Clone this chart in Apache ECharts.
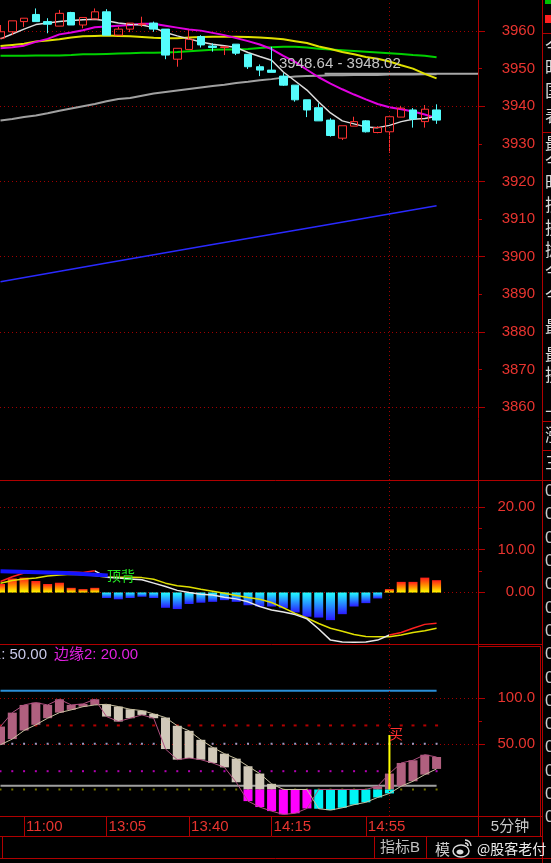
<!DOCTYPE html>
<html>
<head>
<meta charset="utf-8">
<style>
  html, body { margin: 0; padding: 0; background: #000; }
  #chart { width: 551px; height: 863px; }
</style>
<script src="https://cdn.jsdelivr.net/npm/echarts@6/dist/echarts.min.js"></script>
</head>
<body>
<div id="chart"></div>
<script>
// 5 minute bars, [open, close, low, high]
const candles = [
  [3958.1, 3959.8, 3958.1, 3961.6], [3959.8, 3962.7, 3958.9, 3962.7], [3962.5, 3963.4, 3961.1, 3963.4],
  [3964.4, 3962.5, 3962.5, 3966.0], [3962.5, 3961.8, 3959.4, 3963.4], [3961.3, 3964.7, 3961.3, 3965.6],
  [3964.9, 3961.6, 3961.6, 3965.1], [3961.6, 3963.6, 3960.7, 3963.6], [3963.2, 3965.1, 3963.2, 3966.0],
  [3965.1, 3958.9, 3958.9, 3965.8], [3958.9, 3960.5, 3958.9, 3961.1], [3960.5, 3962.1, 3959.7, 3962.1],
  [3961.7, 3961.9, 3961.1, 3963.8], [3962.1, 3960.5, 3959.8, 3962.5], [3960.5, 3953.6, 3952.5, 3960.5],
  [3952.5, 3955.4, 3950.5, 3955.4], [3955.1, 3957.8, 3955.1, 3960.3], [3958.5, 3956.3, 3955.6, 3958.9],
  [3956.0, 3955.6, 3954.5, 3956.7], [3955.6, 3955.8, 3953.6, 3955.8], [3956.5, 3954.1, 3953.6, 3956.5],
  [3953.8, 3950.5, 3949.9, 3953.8], [3950.5, 3949.6, 3948.0, 3951.1], [3949.6, 3949.0, 3949.0, 3955.8],
  [3948.0, 3945.6, 3945.4, 3948.8], [3945.6, 3941.7, 3941.2, 3945.6], [3941.7, 3939.0, 3937.1, 3941.7],
  [3939.6, 3936.1, 3936.1, 3940.8], [3936.3, 3932.2, 3931.9, 3936.8], [3931.5, 3934.8, 3931.0, 3934.8],
  [3934.7, 3935.9, 3934.7, 3937.2], [3936.1, 3933.2, 3933.0, 3936.3], [3933.0, 3934.3, 3932.8, 3934.7],
  [3933.2, 3937.2, 3927.6, 3937.2], [3937.1, 3939.5, 3937.1, 3940.1], [3939.0, 3936.6, 3934.3, 3939.5],
  [3935.9, 3939.2, 3934.3, 3940.3], [3939.0, 3936.3, 3935.3, 3940.5]
];
const maWhite = [3957.9, 3959.2, 3960.5, 3961.7, 3962.1, 3962.5, 3962.8, 3963.0, 3963.1, 3962.7, 3962.1, 3961.8, 3961.6, 3960.9, 3959.6, 3958.7, 3957.9, 3957.1, 3956.5, 3956.1, 3955.6, 3954.3, 3953.2, 3952.2, 3949.1, 3946.7, 3944.3, 3941.1, 3938.2, 3936.1, 3935.3, 3934.5, 3934.3, 3934.9, 3935.9, 3936.5, 3936.7, 3937.3];
const maMagenta = [3955.4, 3955.7, 3956.1, 3957.1, 3957.9, 3959.1, 3959.6, 3960.2, 3961.0, 3961.2, 3961.4, 3961.6, 3961.9, 3961.9, 3961.4, 3960.9, 3960.4, 3960.1, 3959.5, 3958.9, 3958.1, 3957.3, 3956.4, 3955.2, 3953.4, 3951.8, 3949.7, 3947.7, 3946.0, 3944.5, 3943.1, 3941.8, 3940.6, 3939.7, 3939.2, 3938.6, 3937.8, 3936.8];
const maYellow = [3956.0, 3956.3, 3956.6, 3957.2, 3957.5, 3957.8, 3958.3, 3958.6, 3958.7, 3958.8, 3958.7, 3958.6, 3958.4, 3958.2, 3958.1, 3958.1, 3958.3, 3958.4, 3958.5, 3958.5, 3958.5, 3958.4, 3958.3, 3958.1, 3957.8, 3957.3, 3956.8, 3955.9, 3955.2, 3954.4, 3953.8, 3953.1, 3952.6, 3951.9, 3950.9, 3950.0, 3948.6, 3947.4];
const maGreen = [3953.4, 3953.4, 3953.4, 3953.5, 3953.5, 3953.5, 3953.6, 3953.8, 3953.8, 3953.9, 3954.0, 3954.1, 3954.2, 3954.2, 3954.3, 3954.4, 3954.6, 3954.8, 3955.0, 3955.1, 3955.1, 3955.2, 3955.5, 3955.7, 3955.8, 3955.8, 3955.6, 3955.3, 3955.1, 3954.9, 3954.7, 3954.5, 3954.3, 3954.1, 3953.9, 3953.6, 3953.4, 3953.0];
const maGrey = [3936.2, 3936.6, 3937.1, 3937.5, 3938.1, 3938.8, 3939.4, 3940.0, 3940.6, 3941.3, 3941.9, 3942.2, 3942.8, 3943.4, 3943.8, 3944.2, 3944.6, 3945.0, 3945.4, 3945.7, 3946.2, 3946.5, 3946.9, 3947.2, 3947.6, 3947.9, 3948.0, 3948.1, 3948.2, 3948.2, 3948.3, 3948.3, 3948.3, 3948.4, 3948.4, 3948.4, 3948.5, 3948.5];
const maBlue = [[0, 3893.3], [9, 3898.3], [18, 3903.2], [27, 3908.1], [37, 3913.5]];
const priceLine = [[27.5, 3948.64], [40.515, 3948.64]];

// MACD
const macdHist = [2.0, 3.3, 3.5, 2.7, 2.0, 2.3, 1.1, 0.8, 1.1, -1.3, -1.6, -1.3, -1.0, -1.3, -3.6, -3.9, -2.7, -2.4, -2.2, -1.8, -2.2, -3.0, -3.3, -3.3, -3.7, -4.7, -5.7, -5.9, -6.5, -5.1, -3.3, -2.5, -1.4, 0.8, 2.5, 2.5, 3.5, 2.9];
const dif = [2.6, 3.7, 4.6, 4.9, 4.9, 4.9, 4.8, 4.7, 5.1, 3.6, 3.4, 3.2, 3.0, 2.2, 1.4, 0.5, 0.0, -0.4, -0.6, -1.1, -1.5, -2.2, -3.3, -4.1, -4.6, -5.2, -6.2, -8.6, -11.2, -11.65, -11.7, -11.65, -11.2, -10.0, -9.4, -8.4, -7.5, -7.25];
const dea = [2.2, 2.8, 3.2, 3.4, 3.9, 4.1, 4.3, 4.2, 4.0, 3.6, 3.6, 3.6, 3.5, 3.1, 2.2, 1.6, 1.3, 0.75, 0.3, -0.2, -0.7, -1.2, -1.6, -2.35, -3.6, -4.9, -6.0, -7.3, -8.4, -9.1, -9.9, -10.35, -10.4, -10.4, -10.0, -9.4, -9.0, -8.4];
const divergence = [[0, 5.0], [5.6, 4.6], [9.1, 4.0]];

// bottom indicator boxes
const boxOpen = [48.9, 55.1, 64.5, 70.7, 77.9, 84.0, 87.0, 90.5, 92.4, 93.1, 90.6, 87.7, 86.2, 82.6, 78.6, 69.6, 64.1, 54.3, 46.0, 39.1, 33.7, 25.4, 17.4, 6.2, 0, 0, 0, -21.0, -22.5, -20.0, -16.6, -14.0, -8.7, -4.3, 3.6, 9.0, 16.3, 22.5];
const boxClose = [68.8, 84.0, 92.4, 94.9, 92.4, 98.6, 92.4, 93.5, 98.6, 79.7, 74.3, 77.9, 81.5, 77.9, 44.2, 32.6, 34.4, 32.6, 29.0, 24.2, 7.9, -12.7, -19.2, -23.6, -27.2, -26.0, -20.7, 0, 0, 0, 0, 0, 3.5, 17.4, 29.0, 31.9, 38.0, 35.5];
const upperLevel = 108;
const baseLevel = 4;
const edge1 = 50, edge2 = 20, redLevel = 70, zeroLevel = 0;
const buySignal = [[33, 0], [33, 59.6]];
const dayBreak = 33;

const timeTicks = [2, 9, 16, 23, 31];
const timeLabels = ['11:00', '13:05', '13:40', '14:15', '14:55'];

const X_MIN = -0.042, X_MAX = 40.515;
const RED = '#e8342f';
const FRAME = '#b00000';
const DOT = '#a00000';
const FONT = '"Liberation Sans", "Noto Sans CJK SC", sans-serif';
const CJK = '"Noto Sans CJK SC", sans-serif';

const idx = candles.map((_, i) => i);
const pairs = (arr) => arr.map((v, i) => [i, v]);
const level = (v) => idx.map(i => [i, v]);

const posGrad = new echarts.graphic.LinearGradient(0, 0, 0, 1, [
  { offset: 0, color: '#ff1a1a' }, { offset: 0.5, color: '#ff8c00' }, { offset: 1, color: '#ffff00' }
]);
const negGrad = new echarts.graphic.LinearGradient(0, 0, 0, 1, [
  { offset: 0, color: '#22ffff' }, { offset: 1, color: '#2a1aff' }
]);

const vLine = {
  symbol: ['none', 'none'], silent: true, label: { show: false },
  lineStyle: { color: DOT, type: [1, 3], width: 1 },
  data: [{ xAxis: dayBreak }]
};

function lineSeries(x, y, data, color, width, extra) {
  return Object.assign({
    type: 'line', xAxisIndex: x, yAxisIndex: y, data, symbol: 'none',
    lineStyle: { color, width }, z: 2, silent: true
  }, extra || {});
}
function dots(v, color, size) {
  return {
    type: 'scatter', xAxisIndex: 4, yAxisIndex: 6, data: level(v), symbol: 'rect',
    symbolSize: size, itemStyle: { color }, z: 1, silent: true
  };
}

const chart = echarts.init(document.getElementById('chart'));

const frame = [
  [478.5, 0, 478.5, 837], [542.5, 0, 542.5, 863],
  [0, 480.5, 551, 480.5], [0, 644.5, 543, 644.5], [0, 816.5, 543, 816.5],
  [0, 836.5, 543, 836.5], [0, 858.5, 551, 858.5],
  [479, 646.5, 540.5, 646.5], [540.5, 646.5, 540.5, 837],
  [2.5, 837, 2.5, 858], [374.5, 837, 374.5, 858], [426.5, 837, 426.5, 858],
  [542.5, 33.5, 551, 33.5], [542.5, 132.5, 551, 132.5],
  [542.5, 421.5, 551, 421.5], [542.5, 450.5, 551, 450.5]
];
const sideChars = [['今', 47], ['昨', 68], ['国', 91], ['表', 116], ['最', 144], ['今', 162], ['昨', 183],
  ['振', 205], ['换', 228], ['抛', 250], ['今', 272], ['今', 296], ['最', 327], ['最', 355], ['换', 375],
  ['上', 405], ['涨', 435], ['三', 463]];

function txt(x, y, text, fill, font, align) {
  return { type: 'text', x, y, z: 100, silent: true,
    style: { text, fill, font, align: align || 'left', verticalAlign: 'middle',
      textAlign: align || 'left', textVerticalAlign: 'middle' } };
}

const graphics = [];
frame.forEach(f => graphics.push({ type: 'line', z: 100, silent: true,
  shape: { x1: f[0], y1: f[1], x2: f[2], y2: f[3] }, style: { stroke: FRAME, lineWidth: 1 } }));
graphics.push({ type: 'rect', z: 100, shape: { x: 545, y: 0, width: 6, height: 4 }, style: { fill: '#00c000' } });
graphics.push({ type: 'rect', z: 100, shape: { x: 545, y: 15, width: 6, height: 8 }, style: { fill: '#ff2020' } });
sideChars.forEach(c => graphics.push(txt(545, c[1], c[0], '#d8d8d8', '17px ' + CJK)));
for (let k = 0; k < 15; k++) graphics.push(txt(545, 491.5 + k * 23.3, '0', '#c8c8c8', '17px ' + FONT));
graphics.push(txt(279, 64, '3948.64 - 3948.02', '#c4c4c4', '15px ' + FONT));
graphics.push(txt(107, 576, '顶背', '#22e622', '14px ' + CJK));
graphics.push(txt(389, 734, '买', '#ff3030', '14px ' + CJK));
graphics.push(txt(47, 655, '边缘1: 50.00', '#c8c8e8', '15px ' + FONT, 'right'));
graphics.push(txt(54, 655, '边缘2: 20.00', '#e020e0', '15px ' + FONT));
graphics.push(txt(510, 827, '5分钟', '#c8c8c8', '15px ' + FONT, 'center'));
graphics.push(txt(400, 848, '指标B', '#c0c0c0', '15px ' + FONT, 'center'));
graphics.push(txt(435, 849, '模', '#d0d0d0', '15px ' + CJK));
graphics.push(txt(477, 849, '@股客老付', '#eeeeee', '14px ' + CJK));
// weibo mark
graphics.push({ type: 'ellipse', z: 100, shape: { cx: 461, cy: 851, rx: 8, ry: 6 }, style: { fill: 'none', stroke: '#dcdcdc', lineWidth: 1.5 } });
graphics.push({ type: 'ellipse', z: 100, shape: { cx: 460, cy: 852, rx: 3.5, ry: 2.5 }, style: { fill: '#dcdcdc' } });
graphics.push({ type: 'arc', z: 100, shape: { cx: 465, cy: 846, r: 6, startAngle: -Math.PI / 2, endAngle: 0 }, style: { fill: 'none', stroke: '#dcdcdc', lineWidth: 1.5 } });
graphics.push({ type: 'arc', z: 100, shape: { cx: 465, cy: 846, r: 3, startAngle: -Math.PI / 2, endAngle: 0 }, style: { fill: 'none', stroke: '#dcdcdc', lineWidth: 1.5 } });

const hiddenX = (g) => ({ type: 'value', gridIndex: g, min: X_MIN, max: X_MAX, show: false });
const dummyX = (g) => ({ type: 'value', gridIndex: g, min: 0, max: 1, show: false });
const tickAxis = (g, min, max, interval, len, labels, split, fmt) => ({
  type: 'value', gridIndex: g, position: 'right', min, max, interval,
  axisLine: { show: false, onZero: false },
  axisTick: { show: true, length: len, lineStyle: { color: FRAME } },
  axisLabel: { show: labels, color: RED, fontSize: 15, fontFamily: FONT, align: 'right', margin: 57, formatter: fmt },
  splitLine: { show: split, lineStyle: { color: DOT, type: [1, 3], width: 1 } }
});

chart.setOption({
  backgroundColor: '#000',
  animation: false,
  textStyle: { fontFamily: FONT },
  grid: [
    { left: 0, top: 0, width: 478, height: 480 },
    { left: 0, top: 31, width: 478, height: 376 },
    { left: 0, top: 481, width: 478, height: 163 },
    { left: 0, top: 507, width: 478, height: 85 },
    { left: 0, top: 645, width: 478, height: 171 },
    { left: 0, top: 698, width: 478, height: 45.75 }
  ],
  xAxis: [
    hiddenX(0), dummyX(1), hiddenX(2), dummyX(3),
    {
      type: 'value', gridIndex: 4, min: X_MIN, max: X_MAX,
      axisLine: { show: false, onZero: false }, splitLine: { show: false },
      axisTick: { show: true, customValues: timeTicks, length: 20, lineStyle: { color: FRAME } },
      axisLabel: {
        customValues: timeTicks, color: RED, fontSize: 15, fontFamily: FONT,
        align: 'left', margin: 3, padding: [0, 0, 0, 2],
        formatter: (v) => timeLabels[timeTicks.indexOf(v)]
      }
    },
    dummyX(5)
  ],
  yAxis: [
    { type: 'value', gridIndex: 0, min: 3840.585, max: 3968.245, show: false },
    tickAxis(1, 3860, 3960, 10, 4, true, false, (v) => String(v)),
    tickAxis(1, 3860, 3960, 20, 7, false, true),
    { type: 'value', gridIndex: 2, min: -12.118, max: 26.235, show: false },
    tickAxis(3, 0, 20, 10, 7, true, true, (v) => v.toFixed(2)),
    tickAxis(3, 0, 20, 5, 4, false, false),
    { type: 'value', gridIndex: 4, min: -28.96, max: 157.9, show: false },
    tickAxis(5, 50, 100, 50, 7, true, true, (v) => v >= 100 ? v.toFixed(1) : v.toFixed(2)),
    tickAxis(5, 50, 100, 25, 4, false, false)
  ],
  graphic: { elements: graphics },
  series: [
    // main price panel
    lineSeries(0, 0, maBlue, '#2a2aff', 1.5),
    lineSeries(0, 0, pairs(maGrey), '#a0a0a0', 2),
    lineSeries(0, 0, priceLine, '#a8a8a8', 2),
    lineSeries(0, 0, pairs(maGreen), '#00d000', 2),
    lineSeries(0, 0, pairs(maYellow), '#e0e000', 2),
    lineSeries(0, 0, pairs(maMagenta), '#e000e0', 2),
    lineSeries(0, 0, pairs(maWhite), '#dcdcdc', 1.5, { markLine: vLine }),
    {
      type: 'candlestick', xAxisIndex: 0, yAxisIndex: 0, z: 3, silent: true,
      layout: 'horizontal', barWidth: 8,
      data: candles.map((c, i) => [i, c[0], c[1], c[2], c[3]]),
      itemStyle: {
        color: 'rgba(0,0,0,0)', color0: '#54fcfc',
        borderColor: '#ff3232', borderColor0: '#54fcfc', borderColorDoji: '#ff3232', borderWidth: 1
      }
    },
    // MACD panel
    {
      type: 'bar', xAxisIndex: 2, yAxisIndex: 3, barWidth: 9, silent: true, z: 1,
      data: macdHist.map((v, i) => ({ value: [i, v], itemStyle: { color: v >= 0 ? posGrad : negGrad } }))
    },
    lineSeries(2, 3, pairs(dea), '#e0e000', 1.5, { markLine: vLine }),
    lineSeries(2, 3, pairs(dif).map(p => (p[0] >= 8 && p[0] <= 33 ? p : [p[0], null])), '#e8e8e8', 1.5),
    lineSeries(2, 3, pairs(dif).map(p => (p[0] <= 8 || p[0] >= 33 ? p : [p[0], null])), '#ff2020', 1.5),
    lineSeries(2, 3, divergence, '#1414ff', 4),
    // bottom indicator panel
    dots(redLevel, '#e00000', [3, 2]),
    dots(edge1, '#c0c0f0', [2, 2]),
    dots(edge2, '#e000e0', [2, 2]),
    dots(zeroLevel, '#909000', [2, 2]),
    lineSeries(4, 6, level(upperLevel), '#2a8fd8', 2, { markLine: vLine }),
    lineSeries(4, 6, level(baseLevel), '#a0a0a0', 2),
    {
      type: 'custom', xAxisIndex: 4, yAxisIndex: 6, z: 3, silent: true,
      data: boxOpen.map((o, i) => [i, o, boxClose[i]]),
      encode: { x: 0, y: [1, 2] },
      renderItem: function (params, api) {
        const i = api.value(0), o = api.value(1), c = api.value(2);
        const up = c >= o;
        const hi = Math.max(o, c), lo = Math.min(o, c);
        const w = 9;
        const z0 = api.coord([i, 0]);
        const xc = z0[0];
        const children = [];
        if (hi > 0) {
          const yt = api.coord([i, hi])[1];
          const yb = lo > 0 ? api.coord([i, lo])[1] : z0[1];
          children.push({ type: 'rect', shape: { x: xc - w / 2, y: yt, width: w, height: yb - yt },
            style: { fill: up ? '#b0607f' : '#d0c8b8' } });
        }
        if (lo < 0) {
          const yt = hi < 0 ? api.coord([i, hi])[1] : z0[1];
          const yb = api.coord([i, lo])[1];
          children.push({ type: 'rect', shape: { x: xc - w / 2, y: yt, width: w, height: yb - yt },
            style: { fill: up ? '#00f4f4' : '#ff00ff' } });
        }
        return { type: 'group', children };
      }
    },
    lineSeries(4, 6, pairs(boxOpen), '#c8c0a0', 1, { z: 4 }),
    lineSeries(4, 6, pairs(boxClose), '#b05080', 1, { z: 4 }),
    lineSeries(4, 6, buySignal, '#ffff00', 2, { z: 5 })
  ]
});
</script>
</body>
</html>
